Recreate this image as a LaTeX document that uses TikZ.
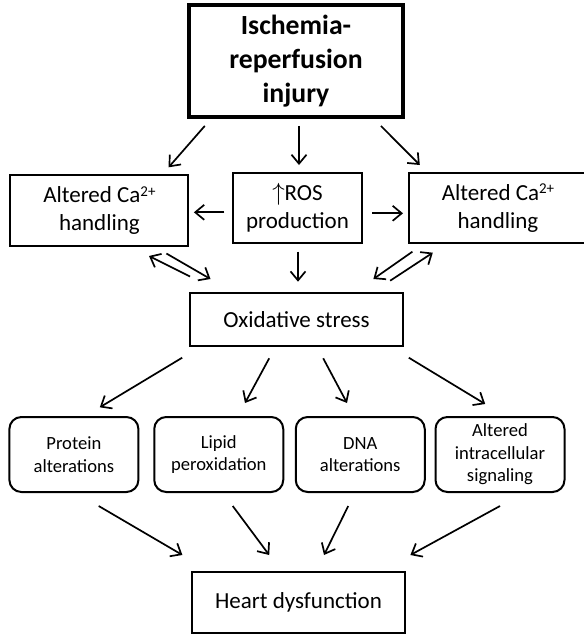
\documentclass[tikz,border=0pt]{standalone}
\usepackage{fontspec}
\setmainfont{Carlito}
\usetikzlibrary{arrows.meta}

\newcommand{\caion}{Ca\raisebox{.55ex}{\fontsize{15}{15}\selectfont 2+}}

\begin{document}
\begin{tikzpicture}[x=1pt, y=-1pt, >={Straight Barb[length=9pt,width=15pt]},
  box/.style={draw, line width=2pt, inner sep=0pt, align=center, font=\fontsize{23}{28}\selectfont},
  bigbox/.style={box, line width=3.8pt, font=\bfseries\fontsize{27.7}{34}\selectfont},
  smallbox/.style={box, rounded corners=12pt, minimum width=129pt, minimum height=75pt, font=\fontsize{18.6}{22.5}\selectfont},
  arr/.style={->, line width=1.7pt}]

\useasboundingbox (0,0) rectangle (584,635);
\clip (0,0) rectangle (584,635);

\node[bigbox, minimum width=214pt, minimum height=112pt] (isch) at (296,61) {Ischemia-\\reperfusion\\injury};

\node[box, minimum width=178pt, minimum height=71pt] (lca) at (99.4,210.5) {Altered \caion\\handling};
\node[box, minimum width=129.6pt, minimum height=70pt] (ros) at (297.5,208) {$\uparrow$ROS\\production};
\node[box, minimum width=178pt, minimum height=70pt] (rca) at (498,208) {Altered \caion\\handling};

\node[box, minimum width=213pt, minimum height=53pt] (ox) at (296.5,319.5) {Oxidative stress};

\node[smallbox] (prot) at (73.9,454.5) {Protein\\alterations};
\node[smallbox] (lip) at (218.75,454.5) {Lipid\\peroxidation};
\node[smallbox] (dna) at (360.25,454.5) {DNA\\alterations};
\node[smallbox] (sig) at (500,454.5) {Altered\\intracellular\\signaling};

\node[box, minimum width=213pt, minimum height=61pt] (heart) at (298.5,602.5) {Heart dysfunction};

% injury to second row
\draw [arr]([xshift=17.7pt,yshift=-7pt]isch.south west)--([xshift=-20.8pt,yshift=6.7pt]lca.north east);
\draw [arr]([xshift=3pt,yshift=-7pt]isch.south)--([xshift=1.5pt,yshift=7pt]ros.north);
\draw [arr]([xshift=-24pt,yshift=-7pt]isch.south east)--([xshift=11.8pt,yshift=7pt]rca.north west);

\draw [arr]([xshift=-7.4pt,yshift=-4.3pt]ros.west)--([xshift=4.5pt,yshift=-1.8pt]lca.east);
\draw [arr]([xshift=9pt,yshift=-5.3pt]ros.east)--([xshift=-5pt,yshift=-5.3pt]rca.west);
\draw [arr]([xshift=.5pt,yshift=-7.7pt]ros.south)--([xshift=1.5pt,yshift=10.3pt]ox.north);

% both ways
\draw [arr]([xshift=-23pt,yshift=-6.5pt]lca.south east)--([xshift=21.5pt,yshift=13pt]ox.north west);
\draw [arr]([xshift=1pt,yshift=15.5pt]ox.north west)--([xshift=-40.4pt,yshift=-9pt]lca.south east);
\draw [arr]([xshift=4.4pt,yshift=-7.7pt]rca.south west)--([xshift=-30.6pt,yshift=13pt]ox.north east);
\draw [arr]([xshift=-13.8pt,yshift=11.3pt]ox.north east)--([xshift=24.8pt,yshift=-8.7pt]rca.south west);

% stress to effects
\draw [arr]([xshift=-6.8pt,yshift=-10.7pt]ox.south west)--([xshift=25.9pt,yshift=8.7pt]prot.north);
\draw [arr]([xshift=-27.3pt,yshift=-11.3pt]ox.south)--([xshift=26.25pt,yshift=13pt]lip.north);
\draw [arr]([xshift=26.7pt,yshift=-11.3pt]ox.south)--([xshift=-13.25pt,yshift=13pt]dna.north);
\draw [arr]([xshift=4.8pt,yshift=-10.7pt]ox.south east)--([xshift=-14.8pt,yshift=12pt]sig.north);

% effects to heart
\draw [arr]([xshift=24.8pt,yshift=-13pt]prot.south)--([xshift=-8.6pt,yshift=16pt]heart.north west);
\draw [arr]([xshift=14pt,yshift=-13pt]lip.south)--([xshift=-29.3pt,yshift=16pt]heart.north);
\draw [arr]([xshift=-12pt,yshift=-13pt]dna.south)--([xshift=25.5pt,yshift=16pt]heart.north);
\draw [arr]([xshift=0pt,yshift=-13pt]sig.south)--([xshift=4.4pt,yshift=16pt]heart.north east);

\end{tikzpicture}
\end{document}
